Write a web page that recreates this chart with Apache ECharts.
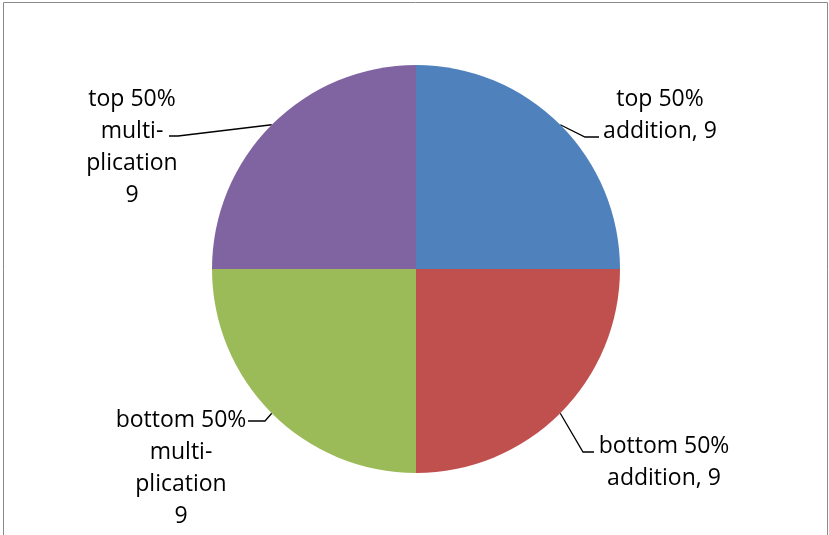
<!DOCTYPE html>
<html><head><meta charset="utf-8">
<script src="https://cdn.jsdelivr.net/npm/echarts@6/dist/echarts.min.js"></script>
<style>html,body{margin:0;padding:0;background:#fff}#c{width:829px;height:535px}</style>
</head><body><div id="c"></div>
<script>
var categories = ['top 50%\naddition', 'bottom 50%\naddition', 'bottom 50%\nmulti-\nplication', 'top 50%\nmulti-\nplication'];
var labelTexts = ['top 50%\naddition, 9', 'bottom 50%\naddition, 9', 'bottom 50%\nmulti-\nplication\n9', 'top 50%\nmulti-\nplication\n9'];
var values = [9, 9, 9, 9];
var colors = ['#4F81BD', '#C0504D', '#9BBB59', '#8064A2'];

// label layout: [centerX, centerY, elbowX, elbowY, endX, endY]
var labelPos = [
  [660, 115, 585, 137, 599, 137],
  [664, 462, 583, 452, 594, 452],
  [181, 468, 265, 421, 248, 421],
  [132, 147, 178, 136, 169, 136]
];

var chart = echarts.init(document.getElementById('c'));
chart.setOption({
  animation: false,
  graphic: [{
    type: 'rect', shape: {x: 3.5, y: 2.5, width: 824, height: 540},
    style: {fill: 'none', stroke: '#8a8a8a', lineWidth: 1}, silent: true
  }],
  series: [{
    type: 'pie',
    center: [416, 269],
    radius: [0, 204],
    startAngle: 90,
    clockwise: true,
    data: categories.map(function (c, i) {
      return {name: c, value: values[i], itemStyle: {color: colors[i]}};
    }),
    itemStyle: {borderWidth: 0},
    label: {
      show: true,
      formatter: function (p) { return labelTexts[p.dataIndex]; },
      fontFamily: 'Open Sans',
      fontSize: 23,
      lineHeight: 32,
      color: '#000',
      align: 'center'
    },
    labelLine: {show: true, lineStyle: {color: '#000', width: 1.3}},
    labelLayout: function (params) {
      var p = labelPos[params.dataIndex];
      var start = params.labelLinePoints ? params.labelLinePoints[0] : [p[2], p[3]];
      return {
        x: p[0], y: p[1], align: 'center', verticalAlign: 'middle',
        labelLinePoints: [start, [p[2], p[3]], [p[4], p[5]]]
      };
    }
  }]
});
</script></body></html>
